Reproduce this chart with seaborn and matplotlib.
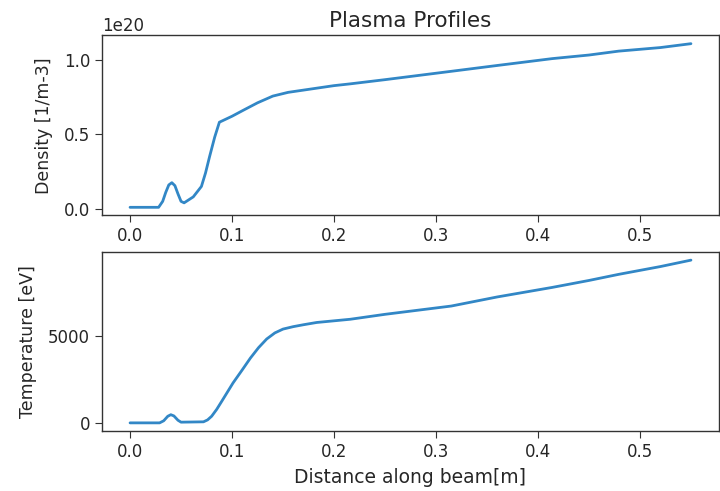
import numpy as np
import pandas as pd
import matplotlib
matplotlib.use("Agg")
import matplotlib.pyplot as plt
import seaborn as sns

# ---- data ----
dens_x = [0.000, 0.028, 0.032, 0.035, 0.038, 0.041, 0.044, 0.047, 0.050, 0.053,
          0.062, 0.070, 0.074, 0.078, 0.083, 0.0876, 0.100, 0.111, 0.125, 0.140,
          0.155, 0.170, 0.200, 0.216, 0.250, 0.315, 0.360, 0.414, 0.450, 0.479,
          0.520, 0.550]
dens_1e20 = [0.01, 0.01, 0.05, 0.11, 0.16, 0.175, 0.155, 0.10, 0.05, 0.04,
             0.08, 0.15, 0.24, 0.35, 0.48, 0.58, 0.62, 0.66, 0.71, 0.755,
             0.78, 0.795, 0.825, 0.837, 0.865, 0.921, 0.96, 1.006, 1.03, 1.056,
             1.08, 1.106]

temp_x = [0.000, 0.029, 0.033, 0.037, 0.040, 0.043, 0.047, 0.050, 0.072, 0.076,
          0.080, 0.085, 0.090, 0.101, 0.110, 0.118, 0.126, 0.134, 0.142, 0.150,
          0.160, 0.170, 0.183, 0.216, 0.250, 0.315, 0.360, 0.414, 0.450, 0.479,
          0.520, 0.550]
temp_eV = [0, 0, 120, 380, 470, 400, 150, 40, 60, 170,
           380, 780, 1250, 2300, 3050, 3730, 4330, 4830, 5180, 5400,
           5540, 5650, 5780, 5966, 6250, 6727, 7250, 7800, 8200, 8550,
           9000, 9370]

x_ticks = [0.0, 0.1, 0.2, 0.3, 0.4, 0.5]
dens_ticks = [0.0, 0.5, 1.0]
temp_ticks = [0, 5000]

title = "Plasma Profiles"
dens_label = "Density [1/m-3]"
temp_label = "Temperature [eV]"
x_label = "Distance along beam[m]"

# ---- style ----
sns.set_style("ticks")
plt.rcParams.update({
    "font.family": ["DejaVu Sans"],
    "font.size": 12,
    "axes.edgecolor": "#333333",
    "axes.linewidth": 1.0,
    "xtick.color": "#333333",
    "ytick.color": "#333333",
    "xtick.labelcolor": "#262626",
    "ytick.labelcolor": "#262626",
    "axes.labelcolor": "#262626",
    "xtick.major.size": 5,
    "ytick.major.size": 5,
})

W, H = 720, 491
fig = plt.figure(figsize=(W / 100, H / 100), dpi=100)
ax1 = fig.add_axes([102 / W, 1 - 215.5 / H, 617 / W, 180 / H])
ax2 = fig.add_axes([102 / W, 1 - 431 / H, 617 / W, 179 / H])

df_d = pd.DataFrame({"x": dens_x, "n": np.array(dens_1e20) * 1e20})
df_t = pd.DataFrame({"x": temp_x, "T": temp_eV})

color = "#3287c6"
sns.lineplot(data=df_d, x="x", y="n", ax=ax1, color=color, linewidth=2.0)
sns.lineplot(data=df_t, x="x", y="T", ax=ax2, color=color, linewidth=2.0)

for ax in (ax1, ax2):
    ax.set_xticks(x_ticks)
    ax.tick_params(labelsize=12)
    for s in ax.spines.values():
        s.set_visible(True)

ax1.set_yticks(np.array(dens_ticks) * 1e20)
ax1.yaxis.get_offset_text().set_fontsize(12)
ax2.set_yticks(temp_ticks)

ax1.set_title(title, fontsize=15.5)
ax1.set_xlabel("")
ax1.set_ylabel(dens_label, fontsize=12.5, labelpad=8)
ax2.set_ylabel(temp_label, fontsize=12.5, labelpad=8)
ax2.set_xlabel(x_label, fontsize=13.5, labelpad=5)

fig.savefig("out.png", dpi=100)
